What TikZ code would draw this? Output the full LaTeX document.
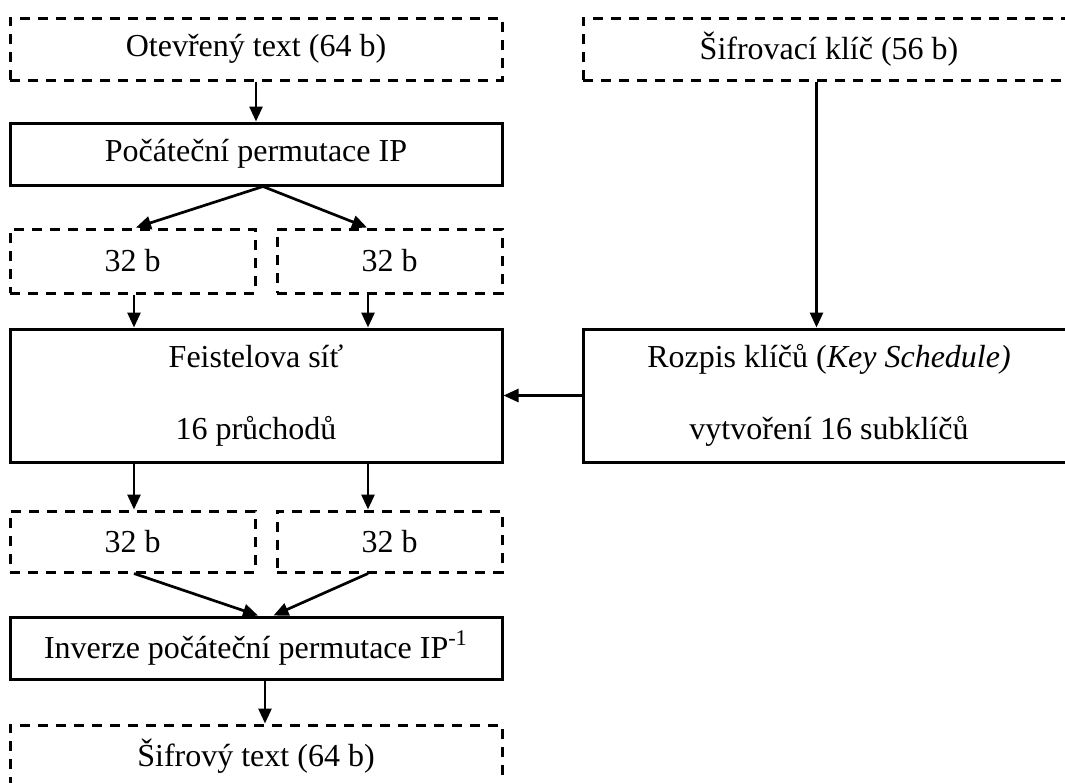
\documentclass[tikz,border=0pt]{standalone}
\usepackage{fontspec}
\setmainfont{Liberation Serif}
\usetikzlibrary{arrows.meta}

\begin{document}
\begin{tikzpicture}[x=0.5pt,y=-0.5pt,
			every node/.style={rectangle, line width=1.5pt, align=center, inner sep=0pt, font=\fontsize{16}{19}\selectfont},
			block/.style={draw, minimum height=31pt},
			data/.style={block, dash pattern=on 5pt off 4pt},
			arrow/.style={-{Triangle[length=7.5pt,width=6.5pt]}, line width=1.35pt}
			]
			\useasboundingbox (0,0) rectangle (1065,782);
			\clip (0,0) rectangle (1065,782);
			
			% Nodes
			\node[data, minimum width=246pt] (plain) at (256,49) {Otevřený text (64 b)};
			\node[block, minimum width=246pt] (initperm) at (256,154) {Počáteční permutace IP};
			\node[data, minimum width=122.5pt, minimum height=32pt] (upL) at (132.5,261) {32 b};
			\node[data, minimum width=112.5pt, minimum height=32pt] (upR) at (389.5,261) {32 b};
			\node[block, minimum width=246pt, minimum height=66.5pt] (feistel) at (256,395.5) {Feistelova síť\\[17pt]16 průchodů};
			\node[data, minimum width=122.5pt, minimum height=30.5pt] (loL) at (132.5,541.5) {32 b};
			\node[data, minimum width=112.5pt, minimum height=30.5pt] (loR) at (389.5,541.5) {32 b};
			\node[block, minimum width=246pt] (invperm) at (256,648) {Inverze počáteční permutace IP\textsuperscript{-1}};
			\node[data, minimum width=246pt] (cipher) at (256,756) {Šifrový text (64 b)};
			
			\node[data, minimum width=246pt] (keyin) at (829,49) {Šifrovací klíč (56 b)};
			\node[block, minimum width=246pt, minimum height=66.5pt] (keysched) at (829,395.5) {Rozpis klíčů (\textit{Key Schedule)}\\[17pt]vytvoření 16 subklíčů};
			
			% Into the initial permutation
			\draw[arrow] (plain) -- (initperm);
			
			% Split into halves
			\draw[arrow] ([xshift=3.5pt]initperm.south) -- ([xshift=1.75pt]upL.north);
			\draw[arrow] ([xshift=3.5pt]initperm.south) -- ([xshift=-11.25pt]upR.north);
			
			% Halves into the Feistel network
			\draw[arrow] ([xshift=0.75pt]upL.south) -- ([xshift=0.75pt]feistel.north -| upL.south);
			\draw[arrow] ([xshift=-10.75pt]upR.south) -- ([xshift=-10.75pt]feistel.north -| upR.south);
			
			% Key schedule
			\draw[arrow] ([xshift=-6.25pt]keyin.south) -- ([xshift=-6.25pt]keysched.north -| keyin.south);
			\draw[arrow] (keysched.west) -- (feistel.east);
			
			% Feistel network out
			\draw[arrow] ([xshift=0.75pt]feistel.south -| loL.north) -- ([xshift=0.75pt]loL.north);
			\draw[arrow] ([xshift=-10.75pt]feistel.south -| loR.north) -- ([xshift=-10.75pt]loR.north);
			
			% Halves into the inverse permutation
			\draw[arrow] ([xshift=0.75pt]loL.south) -- ([xshift=1pt]invperm.north);
			\draw[arrow] ([xshift=-10.75pt]loR.south) -- ([xshift=8.75pt]invperm.north);
			
			% Ciphertext
			\draw[arrow] ([xshift=4.5pt]invperm.south) -- ([xshift=4.5pt]cipher.north);
		\end{tikzpicture}
\end{document}
